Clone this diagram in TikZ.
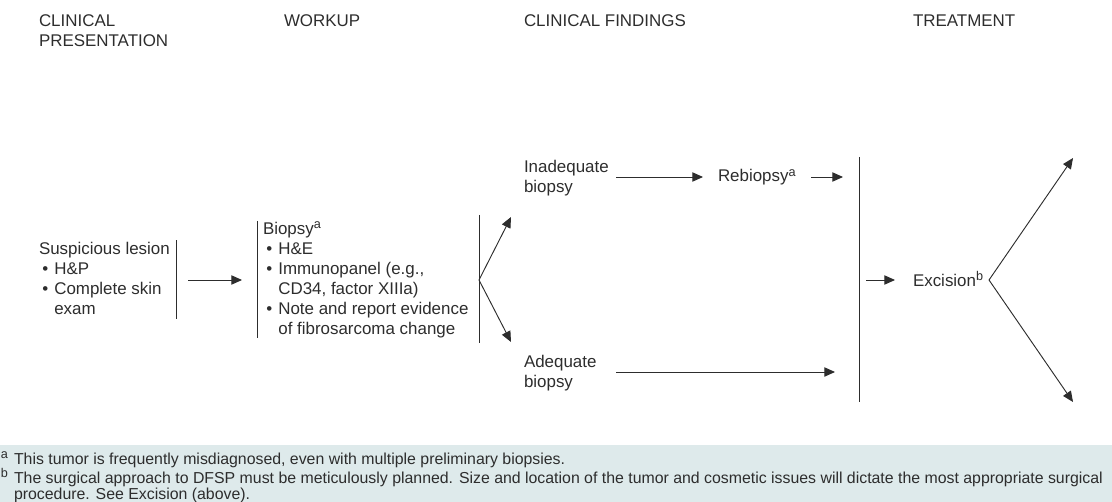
\documentclass[tikz,border=0pt]{standalone}
\usepackage{fontspec}
\setmainfont{Liberation Sans}
\usetikzlibrary{calc}
\usetikzlibrary{arrows.meta}
\definecolor{ink}{RGB}{45, 45, 45}
\definecolor{notebg}{RGB}{222, 234, 235}
\newcommand{\bul}{\makebox[11.5pt][l]{\hspace{2.5pt}\textbullet}}
\newcommand{\ind}{\hspace*{11.5pt}}
\newcommand{\fnmark}[1]{\raisebox{0.33em}{\fontsize{9.5}{9.5}\selectfont #1}}
\newcommand{\notemark}[1]{\makebox[9.75pt][l]{\fnmark{#1}}}

\begin{document}
\begin{tikzpicture}[x=0.75pt, y=-0.75pt,
    every node/.style={inner sep=0pt, outer sep=0pt, text=ink, font=\fontsize{12.7}{15}\selectfont},
    txt/.style={anchor=north west, align=left},
    bar/.style={draw=ink, line width=0.65pt},
    arr/.style={draw=ink, line width=0.7pt, -{Triangle[length=8pt, width=7pt]}}]
    \useasboundingbox (0,0) rectangle (1112,502);
    \fill[notebg] (0,445) rectangle (1112,502);

    % column heads
    \node[txt] (hpres)  at ( 39, 15) {CLINICAL\\PRESENTATION};
    \node[txt] (hwork)  at (284, 15) {WORKUP};
    \node[txt] (hfind)  at (524, 15) {CLINICAL FINDINGS};
    \node[txt] (htreat) at (913, 15) {TREATMENT};

    % steps
    \node[txt] (lesion) at ( 39,242) {Suspicious lesion\\\bul H\&P\\\bul Complete skin\\\ind exam};
    \node[txt] (biopsy) at (263,222) {Biopsy\fnmark{a}\\\bul H\&E\\\bul Immunopanel (e.g.,\\\ind CD34, factor XIIIa)\\\bul Note and report evidence\\\ind of fibrosarcoma change};
    \node[txt] (inadeq) at (524,160) {Inadequate\\biopsy};
    \node[txt] (adeq)   at (524,355) {Adequate\\biopsy};
    \node[anchor=base west] (rebio) at (718,182) {Rebiopsy\fnmark{a}};
    \node[anchor=base west] (excis) at (913,286) {Excision\fnmark{b}};

    % bars
    \coordinate (lesT) at (176,240);  \coordinate (lesB) at (176,319);
    \coordinate (bioT) at (257,221);  \coordinate (bioB) at (257,338);
    \coordinate (wkT)  at (479,215);  \coordinate (wkB)  at (479,343);
    \coordinate (fdT)  at (859,157);  \coordinate (fdB)  at (859,402);
    \draw[bar] (lesT) -- (lesB);
    \draw[bar] (bioT) -- (bioB);
    \draw[bar] (wkT)  -- (wkB);
    \draw[bar] (fdT)  -- (fdB);

    % connectors
    \coordinate (lesOut)  at (188,280);  \coordinate (bioIn)  at (242,280);
    \coordinate (wkFork)  at (479,280);
    \coordinate (inIn)    at (511,217);  \coordinate (adIn)   at (511,342);
    \coordinate (inOut)   at (616,177);  \coordinate (rbIn)   at (703,177);
    \coordinate (rbOut)   at (811,177);  \coordinate (rbEnd)  at (843,177);
    \coordinate (adOut)   at (616,372);  \coordinate (adEnd)  at (835,372);
    \coordinate (exIn0)   at (866,280);  \coordinate (exIn)   at (895,280);
    \coordinate (exFork)  at (989,280);
    \coordinate (exUp)    at (1073,158); \coordinate (exDown) at (1073,402);
    \draw[arr] (lesOut) -- (bioIn);
    \draw[arr] (wkFork) -- (inIn);
    \draw[arr] (wkFork) -- (adIn);
    \draw[arr] (inOut)  -- (rbIn);
    \draw[arr] (rbOut)  -- (rbEnd);
    \draw[arr] (adOut)  -- (adEnd);
    \draw[arr] (exIn0)  -- (exIn);
    \draw[arr] (exFork) -- (exUp);
    \draw[arr] (exFork) -- (exDown);

    % footnotes
    \node[txt, font=\fontsize{11.9}{12.3}\selectfont] (notes) at (1,452)
        {\notemark{a}This tumor is frequently misdiagnosed, even with multiple preliminary biopsies.\\
         \notemark{b}The surgical approach to DFSP must be meticulously planned. Size and location of the tumor and cosmetic issues will dictate the most appropriate surgical\\
         \hspace*{9.75pt}procedure. See Excision (above).};
\end{tikzpicture}
\end{document}
